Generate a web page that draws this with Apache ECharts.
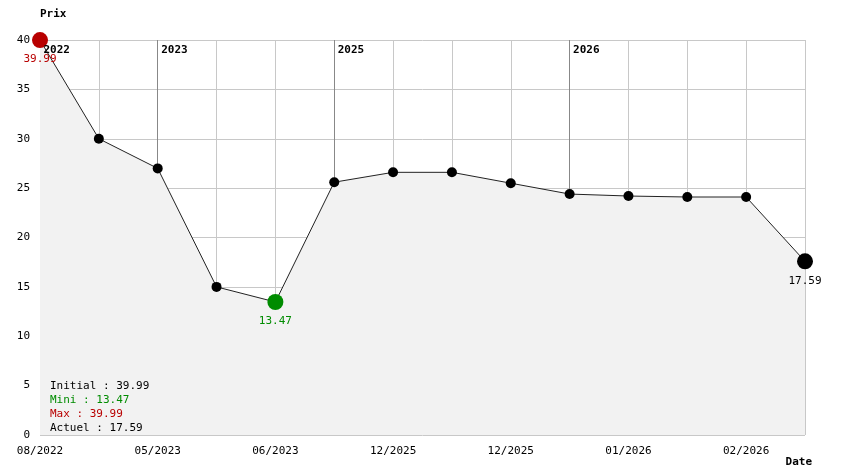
<!DOCTYPE html>
<html><head><meta charset="utf-8">
<script src="https://cdn.jsdelivr.net/npm/echarts@6/dist/echarts.min.js"></script>
<style>html,body{margin:0;padding:0;background:#fff}#c{width:844px;height:474px}</style>
</head><body><div id="c"></div>
<script>
var xLabels = ['08/2022','','05/2023','','06/2023','','12/2025','','12/2025','','01/2026','','02/2026',''];
var prices = [39.99, 30.0, 27.0, 15.0, 13.47, 25.6, 26.6, 26.6, 25.5, 24.4, 24.2, 24.1, 24.1, 17.59];
var yearNames = ['2022','2023','2025','2026'];
var yearIdx = [0, 2, 5, 9];
var yTicks = {min: 0, max: 40, interval: 5};

var FONT = 'DejaVu Sans Mono';
var RED = '#b80000', GREEN = '#008c00';
var maxV = Math.max.apply(null, prices), minV = Math.min.apply(null, prices);
var maxI = prices.indexOf(maxV), minI = prices.indexOf(minV), lastI = prices.length - 1;

var data = prices.map(function(v, i){
  var item = {value: v};
  var col = null;
  if (i === maxI) col = RED; else if (i === minI) col = GREEN; else if (i === lastI) col = '#000';
  if (col) {
    item.symbolSize = 16;
    item.itemStyle = {color: col};
    item.label = {show: true, position: 'bottom', distance: 6, color: col, fontFamily: FONT, fontSize: 11, formatter: function(p){ return p.value.toFixed(2); }};
  }
  return item;
});

var chart = echarts.init(document.getElementById('c'));
chart.setOption({
  animation: false,
  grid: {left: 40, right: 39, top: 40, bottom: 39, z: 0},
  title: {
    left: 45, top: 374, z: 10,
    text: '{a|Initial : ' + prices[0].toFixed(2) + '}\n{g|Mini : ' + minV.toFixed(2) + '}\n{r|Max : ' + maxV.toFixed(2) + '}\n{a|Actuel : ' + prices[lastI].toFixed(2) + '}',
    textStyle: {
      fontFamily: FONT, fontSize: 11, fontWeight: 'normal', lineHeight: 14,
      rich: {
        a: {color: '#000', fontFamily: FONT, fontSize: 11, lineHeight: 14},
        g: {color: GREEN, fontFamily: FONT, fontSize: 11, lineHeight: 14},
        r: {color: RED, fontFamily: FONT, fontSize: 11, lineHeight: 14}
      }
    }
  },
  xAxis: {
    type: 'category', data: xLabels, boundaryGap: false, z: 0,
    name: 'Date', nameLocation: 'end', nameGap: 7,
    nameTextStyle: {fontFamily: FONT, fontWeight: 'bold', fontSize: 11, color: '#000', align: 'right', verticalAlign: 'top', padding: [22, 0, 0, 0]},
    axisLine: {show: false}, axisTick: {show: false},
    axisLabel: {interval: 0, fontFamily: FONT, fontSize: 11, color: '#000', margin: 11},
    splitLine: {show: true, interval: 0, lineStyle: {color: '#c8c8c8', width: 1}}
  },
  yAxis: {
    type: 'value', min: yTicks.min, max: yTicks.max, interval: yTicks.interval, z: 0,
    name: 'Prix', nameGap: 20,
    nameTextStyle: {fontFamily: FONT, fontWeight: 'bold', fontSize: 11, color: '#000', align: 'left'},
    axisLine: {show: false}, axisTick: {show: false},
    axisLabel: {fontFamily: FONT, fontSize: 11, color: '#000', margin: 10},
    splitLine: {lineStyle: {color: '#c8c8c8', width: 1}}
  },
  series: [
    {
      type: 'line', z: 1, data: [], silent: true,
      markLine: {
        z: 1,
        symbol: 'none', silent: true, animation: false,
        lineStyle: {color: '#888', width: 1, type: 'solid'},
        label: {show: false},
        data: yearIdx.map(function(ix){ return {xAxis: ix}; })
      },
      markPoint: {
        z: 8,
        symbol: 'circle', symbolSize: 1, silent: true,
        itemStyle: {color: 'rgba(0,0,0,0)'},
        label: {show: true, position: [4, 5], fontFamily: FONT, fontWeight: 'bold', fontSize: 11, color: '#000',
          formatter: function(p){ return p.name; }},
        data: yearIdx.map(function(ix, k){ return {name: yearNames[k], coord: [ix, yTicks.max]}; })
      }
    },
    {
      type: 'line', z: 3, data: data,
      symbol: 'circle', symbolSize: 10,
      itemStyle: {color: '#000'},
      lineStyle: {color: '#222', width: 1},
      areaStyle: {color: '#f2f2f2', opacity: 1},
      label: {show: false}
    }
  ]
});
</script>
</body></html>
